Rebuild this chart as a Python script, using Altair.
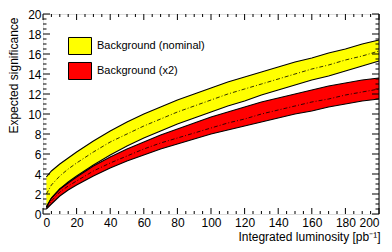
import altair as alt
import pandas as pd

# Integrated luminosity [pb^-1]
lumi = [2, 5, 10, 15, 20, 30, 40, 50, 60, 70, 80, 90, 100, 110, 120, 130, 140, 150, 160, 170, 180, 190, 200]

# Background (nominal): upper edge, central value, lower edge
nom_hi = [3.7, 4.3, 5.0, 5.6, 6.2, 7.3, 8.3, 9.2, 10.0, 10.7, 11.4, 12.0, 12.6, 13.2, 13.7, 14.2, 14.7, 15.2, 15.6, 16.1, 16.5, 17.0, 17.4]
nom_mid = [2.0, 2.9, 3.8, 4.5, 5.1, 6.2, 7.2, 8.0, 8.8, 9.5, 10.2, 10.8, 11.4, 12.0, 12.5, 13.0, 13.5, 14.0, 14.5, 14.9, 15.4, 15.8, 16.3]
nom_lo = [0.7, 1.6, 2.5, 3.2, 3.8, 4.9, 5.9, 6.8, 7.6, 8.3, 9.0, 9.6, 10.2, 10.8, 11.3, 11.9, 12.4, 12.9, 13.4, 13.8, 14.3, 14.8, 15.3]

# Background (x2): upper edge, central value, lower edge
x2_hi = [0.7, 1.6, 2.5, 3.1, 3.7, 4.8, 5.7, 6.5, 7.2, 7.9, 8.5, 9.1, 9.7, 10.2, 10.7, 11.2, 11.6, 12.0, 12.4, 12.8, 13.1, 13.4, 13.6]
x2_mid = [0.6, 1.3, 2.2, 2.8, 3.3, 4.3, 5.1, 5.8, 6.5, 7.1, 7.6, 8.1, 8.6, 9.1, 9.5, 10.0, 10.4, 10.8, 11.2, 11.5, 11.9, 12.2, 12.5]
x2_lo = [0.5, 1.0, 1.8, 2.4, 2.9, 3.8, 4.6, 5.3, 5.9, 6.5, 7.0, 7.5, 8.0, 8.4, 8.8, 9.2, 9.6, 10.0, 10.3, 10.7, 11.0, 11.3, 11.5]

series_names = ["Background (nominal)", "Background (x2)"]
series_colors = ["#ffff00", "#ff0000"]

x_major = list(range(0, 201, 20))
x_minor = [v for v in range(0, 201, 5) if v % 20 != 0]
y_major = list(range(0, 21, 2))
y_minor = [v / 2 for v in range(0, 41) if v % 4 != 0]

FONT = "Liberation Sans"

rows = []
for name, lo, mid, hi in [(series_names[0], nom_lo, nom_mid, nom_hi),
                          (series_names[1], x2_lo, x2_mid, x2_hi)]:
    for L, a, m, b in zip(lumi, lo, mid, hi):
        rows.append({"L": L, "lo": a, "mid": m, "hi": b, "series": name})
df = pd.DataFrame(rows)

xs = alt.Scale(domain=[0, 200], nice=False, zero=False)
ys = alt.Scale(domain=[0, 20], nice=False, zero=False)

x_axis = alt.Axis(values=x_major, ticks=False, domain=False, grid=False,
                  labelFont=FONT, labelFontSize=12, labelColor="black", labelPadding=3,
                  title="Integrated luminosity [pb⁻¹]", titleFont=FONT, titleFontSize=12,
                  titleFontWeight="normal", titleColor="black", titleAnchor="end",
                  titleAlign="right", titleBaseline="top", titleX=337, titleY=17)
y_axis = alt.Axis(values=y_major, ticks=False, domain=False, grid=False,
                  labelFont=FONT, labelFontSize=12, labelColor="black", labelPadding=2,
                  title="Expected significance", titleFont=FONT, titleFontSize=12,
                  titleFontWeight="normal", titleColor="black", titleAnchor="end",
                  titlePadding=7, titleY=3)

legend = alt.Legend(title=None, orient="none", legendX=25, legendY=20,
                    symbolType="M-1,-0.74L1,-0.74L1,0.74L-1,0.74Z", symbolSize=529,
                    symbolStrokeColor="black", symbolStrokeWidth=1, symbolOpacity=1,
                    labelFont=FONT, labelFontSize=11, labelColor="black", labelOffset=5,
                    rowPadding=2, padding=0)

def X(field):
    return alt.X(field, type="quantitative", scale=xs, axis=x_axis)

def Y(field):
    return alt.Y(field, type="quantitative", scale=ys, axis=y_axis)

bands = alt.Chart(df).mark_area(fillOpacity=1, opacity=1).encode(
    x=X("L"),
    y=Y("lo"),
    y2="hi:Q",
    fill=alt.Fill("series:N", scale=alt.Scale(domain=series_names, range=series_colors),
                  legend=legend),
)

edge_lo = alt.Chart(df).mark_line(color="black", strokeWidth=1.1).encode(
    x=X("L"), y=Y("lo"), detail="series:N")
edge_hi = alt.Chart(df).mark_line(color="black", strokeWidth=1.1).encode(
    x=X("L"), y=Y("hi"), detail="series:N")
center = alt.Chart(df).mark_line(color="black", strokeWidth=0.8, strokeDash=[4, 2, 1, 2]).encode(
    x=X("L"), y=Y("mid"), detail="series:N")

xmaj = pd.DataFrame({"v": x_major})
xmin = pd.DataFrame({"v": x_minor})
ymaj = pd.DataFrame({"v": y_major})
ymin = pd.DataFrame({"v": y_minor})

def xticks(data, yval, size, off):
    return alt.Chart(data).mark_tick(orient="vertical", size=size, thickness=1, color="black",
                                     yOffset=off, opacity=1).encode(
        x=X("v"), y=alt.datum(yval, type="quantitative", scale=ys, axis=y_axis))

def yticks(data, xval, size, off):
    return alt.Chart(data).mark_tick(orient="horizontal", size=size, thickness=1, color="black",
                                     xOffset=off, opacity=1).encode(
        y=Y("v"), x=alt.datum(xval, type="quantitative", scale=xs, axis=x_axis))

ticks = [
    xticks(xmaj, 0, 6, -3), xticks(xmin, 0, 3, -1.5),
    xticks(xmaj, 20, 6, 3), xticks(xmin, 20, 3, 1.5),
    yticks(ymaj, 0, 7, 3.5), yticks(ymin, 0, 3.5, 1.75),
    yticks(ymaj, 200, 7, -3.5), yticks(ymin, 200, 3.5, -1.75),
]

right_line = alt.Chart(pd.DataFrame({"a": [0]})).mark_rule(color="black", strokeWidth=1).encode(
    x=alt.datum(200, type="quantitative", scale=xs, axis=x_axis),
    y=alt.datum(0, type="quantitative", scale=ys, axis=y_axis),
    y2=alt.datum(20))

chart = alt.layer(bands, edge_lo, edge_hi, center, *ticks, right_line).properties(
    width=336, height=200, autosize="none",
    padding={"left": 35, "top": 6, "right": 5, "bottom": 30},
).configure_view(stroke=None).configure(background="white")

chart.save("out.html", embed_options={"renderer": "svg", "actions": False})
